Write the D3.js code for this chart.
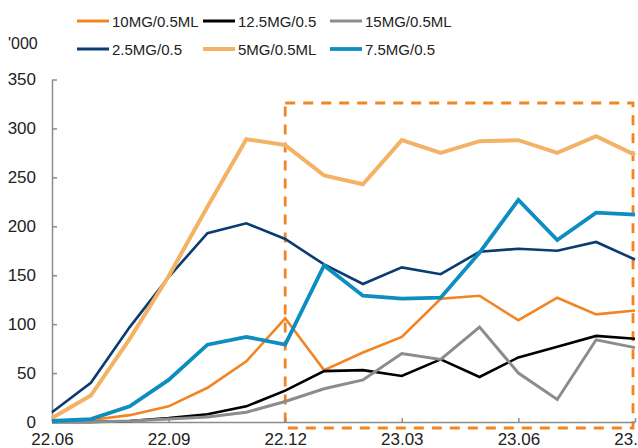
<!DOCTYPE html>
<html>
<head>
<meta charset="utf-8">
<script src="https://cdn.jsdelivr.net/npm/d3@7"></script>
<style>
  body { margin: 0; background: #fff; }
  svg text { font-family: "Liberation Sans", Arial, sans-serif; fill: #222; }
</style>
</head>
<body>
<svg id="chart" width="638" height="448"></svg>
<script>
// months 22.06 .. 23.09
const months = ["22.06","22.07","22.08","22.09","22.10","22.11","22.12",
                "23.01","23.02","23.03","23.04","23.05","23.06","23.07","23.08","23.09"];
const tickLabels = ["22.06","22.09","22.12","23.03","23.06","23.09"];
const yTicks = [0, 50, 100, 150, 200, 250, 300, 350];

const mg10   = [0, 2, 7, 16, 35, 62, 106, 53, 71, 87, 126, 129, 104, 127, 110, 114];
const mg12_5 = [0, 0, 1, 4, 8, 16, 32, 52, 53, 47, 64, 46, 66, 77, 88, 85];
const mg15   = [0, 0, 1, 3, 5, 10, 21, 34, 43, 70, 64, 97, 50, 23, 84, 76];
const mg2_5  = [10, 40, 97, 148, 193, 203, 187, 161, 141, 158, 151, 174, 177, 175, 184, 166];
const mg5    = [4, 27, 85, 149, 220, 289, 283, 252, 243, 288, 275, 287, 288, 275, 292, 273];
const mg7_5  = [1, 3, 16, 43, 79, 87, 79, 160, 129, 126, 127, 173, 227, 186, 214, 212];

const series = [
  { name: "10MG/0.5ML", values: mg10,   color: "#F28522", w: 2.6 },
  { name: "12.5MG/0.5", values: mg12_5, color: "#000000", w: 2.6 },
  { name: "15MG/0.5ML", values: mg15,   color: "#8C8C8C", w: 3 },
  { name: "2.5MG/0.5",  values: mg2_5,  color: "#0B3B70", w: 2.6 },
  { name: "5MG/0.5ML",  values: mg5,    color: "#F4B266", w: 4 },
  { name: "7.5MG/0.5",  values: mg7_5,  color: "#0E8DC0", w: 3.8 }
];

const svg = d3.select("#chart");

const x = d3.scaleLinear().domain([0, months.length - 1]).range([52, 635]);
const y = d3.scaleLinear().domain([0, 350]).range([422, 79.5]);

// highlight box (22.12 onwards)
svg.append("rect")
  .attr("x", x(6))
  .attr("y", y(326))
  .attr("width", x(15) - 2 - x(6))
  .attr("height", y(0) + 6 - y(326))
  .attr("fill", "none")
  .attr("stroke", "#F28522")
  .attr("stroke-width", 2.8)
  .attr("stroke-dasharray", "10,8");

// axes
const yAxis = d3.axisLeft(y)
  .tickValues(yTicks)
  .tickSize(-5)
  .tickSizeOuter(0)
  .tickPadding(16);

const gy = svg.append("g").attr("transform", "translate(52,0)").call(yAxis);
gy.selectAll("text").style("font-size", "17px");

const xAxis = d3.axisBottom(x)
  .tickValues(tickLabels.map(t => months.indexOf(t)))
  .tickFormat(i => months[i])
  .tickSize(-4)
  .tickSizeOuter(0)
  .tickPadding(11);

const gx = svg.append("g").attr("transform", "translate(0," + y(0) + ")").call(xAxis);
gx.selectAll("text").style("font-size", "17px");

svg.selectAll(".domain, .tick line").attr("stroke", "#8c8c8c").attr("stroke-width", 1.5);

// lines
const line = d3.line()
  .x((d, i) => x(i))
  .y(d => y(d));

svg.append("g")
  .selectAll("path")
  .data(series)
  .enter()
  .append("path")
  .attr("d", d => line(d.values))
  .attr("fill", "none")
  .attr("stroke", d => d.color)
  .attr("stroke-width", d => d.w)
  .attr("stroke-linejoin", "miter");

// unit label
svg.append("text")
  .attr("x", 8)
  .attr("y", 49)
  .style("font-size", "16px")
  .text("'000");

// legend, 2 rows x 3 cols
const legX = [77, 203, 330];
const legY = [21, 49];
const leg = svg.append("g")
  .selectAll("g")
  .data(series)
  .enter()
  .append("g")
  .attr("transform", (d, i) => "translate(" + legX[i % 3] + "," + legY[Math.floor(i / 3)] + ")");

leg.append("line")
  .attr("x1", 0).attr("x2", 32)
  .attr("stroke", d => d.color)
  .attr("stroke-width", d => Math.max(d.w, 3));

leg.append("text")
  .attr("x", 35)
  .attr("y", 5.5)
  .style("font-size", "15px")
  .text(d => d.name);
</script>
</body>
</html>
